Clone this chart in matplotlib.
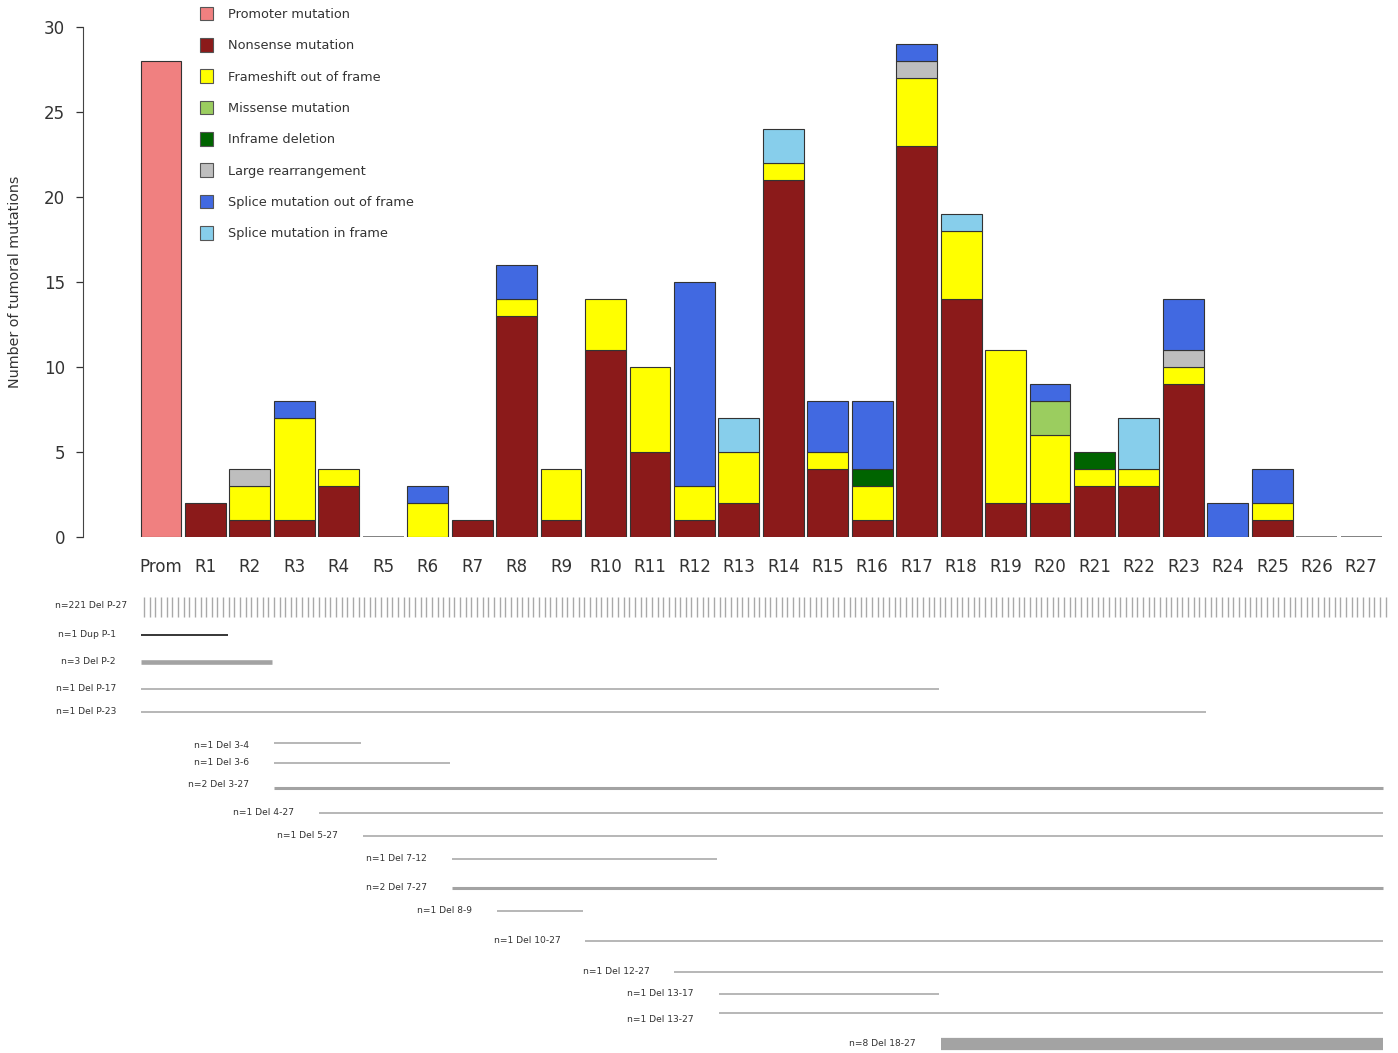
import numpy as np
import matplotlib
matplotlib.use("Agg")
import matplotlib.pyplot as plt
from matplotlib.patches import Patch

# bar categories
regions = ["Prom"] + ["R%d" % i for i in range(1, 28)]

# mutation counts per region, one list per mutation type (stack order bottom -> top)
promoter   = [28] + [0] * 27
nonsense   = [0, 2, 1, 1, 3, 0, 0, 1, 13, 1, 11, 5, 1, 2, 21, 4, 1, 23, 14, 2, 2, 3, 3, 9, 0, 1, 0, 0]
frameshift = [0, 0, 2, 6, 1, 0, 2, 0, 1, 3, 3, 5, 2, 3, 1, 1, 2, 4, 4, 9, 4, 1, 1, 1, 0, 1, 0, 0]
missense   = [0, 0, 0, 0, 0, 0, 0, 0, 0, 0, 0, 0, 0, 0, 0, 0, 0, 0, 0, 0, 2, 0, 0, 0, 0, 0, 0, 0]
inframe    = [0, 0, 0, 0, 0, 0, 0, 0, 0, 0, 0, 0, 0, 0, 0, 0, 1, 0, 0, 0, 0, 1, 0, 0, 0, 0, 0, 0]
large_rearr = [0, 0, 1, 0, 0, 0, 0, 0, 0, 0, 0, 0, 0, 0, 0, 0, 0, 1, 0, 0, 0, 0, 0, 1, 0, 0, 0, 0]
splice_out = [0, 0, 0, 1, 0, 0, 1, 0, 2, 0, 0, 0, 12, 0, 0, 3, 4, 1, 0, 0, 1, 0, 0, 3, 2, 2, 0, 0]
splice_in  = [0, 0, 0, 0, 0, 0, 0, 0, 0, 0, 0, 0, 0, 2, 2, 0, 0, 0, 1, 0, 0, 0, 3, 0, 0, 0, 0, 0]

series = [
    ("Promoter mutation", promoter, "#f08080"),
    ("Nonsense mutation", nonsense, "#8b1a1a"),
    ("Frameshift out of frame", frameshift, "#ffff00"),
    ("Missense mutation", missense, "#9bcd5f"),
    ("Inframe deletion", inframe, "#006400"),
    ("Large rearrangement", large_rearr, "#bebebe"),
    ("Splice mutation out of frame", splice_out, "#4169e1"),
    ("Splice mutation in frame", splice_in, "#87ceeb"),
]

# large deletions / duplications spanning regions (0 = Prom)
event_labels = ["n=1 Dup P-1", "n=3 Del P-2", "n=1 Del P-17", "n=1 Del P-23",
                "n=1 Del 3-4", "n=1 Del 3-6", "n=2 Del 3-27", "n=1 Del 4-27",
                "n=1 Del 5-27", "n=1 Del 7-12", "n=2 Del 7-27", "n=1 Del 8-9",
                "n=1 Del 10-27", "n=1 Del 12-27", "n=1 Del 13-17", "n=1 Del 13-27",
                "n=8 Del 18-27"]
event_start = [0, 0, 0, 0, 3, 3, 3, 4, 5, 7, 7, 8, 10, 12, 13, 13, 18]
event_end   = [1, 2, 17, 23, 4, 6, 27, 27, 27, 12, 27, 9, 27, 27, 17, 27, 27]
event_n     = [1, 3, 1, 1, 1, 1, 2, 1, 1, 1, 2, 1, 1, 1, 1, 1, 8]
whole_del_n = 221

# layout of the event rows (pixel rows from the top of the figure)
row_y = [635, 662, 689, 712, 743, 763, 788, 813, 836, 859, 888, 911, 941, 972, 994, 1013, 1044]
label_dy = [0, 0, 0, 0, 3, 0, -3, 0, 0, 0, 0, 0, 0, 0, 0, 7, 0]

W, H = 1398, 1053
fig = plt.figure(figsize=(W / 100, H / 100), dpi=100)
fig.patch.set_facecolor("white")

step = 44.45      # pixels between bar centres
x0_px = 161       # centre of first bar
ax_left, ax_right = 83, 1398
xlim = ((ax_left - x0_px) / step, (ax_right - x0_px) / step)

ax = fig.add_axes([ax_left / W, (H - 537) / H, (ax_right - ax_left) / W, (537 - 27) / H])
x = np.arange(len(regions))
bottom = np.zeros(len(regions))
for name, vals, col in series:
    vals = np.array(vals, dtype=float)
    mask = vals > 0
    ax.bar(x[mask], vals[mask], bottom=bottom[mask], width=0.92, color=col,
           edgecolor="#333333", linewidth=0.8, zorder=2)
    bottom += vals
# empty regions are drawn as flat bars on the baseline
totals = bottom
empty = totals == 0
ax.bar(x[empty], totals[empty], width=0.92, color="none", edgecolor="#777777", linewidth=1.3)

ax.set_xlim(*xlim)
ax.set_ylim(0, 30)
ax.set_xticks(x)
ax.set_xticklabels(regions, fontsize=12, color="#333333")
ax.set_yticks(range(0, 31, 5))
ax.tick_params(axis="x", length=0, pad=15)
ax.tick_params(axis="y", length=5, width=0.9, pad=8, labelsize=12, colors="#333333")
for s in ["top", "right", "bottom"]:
    ax.spines[s].set_visible(False)
ax.spines["left"].set_bounds(0, 30)
ax.spines["left"].set_color("#444444")
ax.set_ylabel("Number of tumoral mutations", fontsize=10.3, color="#333333", labelpad=16)
ax.patch.set_alpha(0)

handles = [Patch(facecolor=c, edgecolor="#555555", linewidth=0.8) for _, _, c in series]
fig.legend(handles, [n for n, _, _ in series], loc="upper left",
           bbox_to_anchor=(188 / W, 1 + 5 / H), frameon=False, fontsize=9.3,
           labelspacing=1.33, handlelength=1.0, handleheight=1.25, handletextpad=1.2,
           labelcolor="#333333")

# lower panel with the spanning events
low = fig.add_axes([ax_left / W, 0, (ax_right - ax_left) / W, (H - 585) / H])
low.set_xlim(*xlim)
low.set_ylim(H, 585)
low.axis("off")

# whole-gene deletions as a row of ticks
ticks_x = np.linspace(-0.38, 27.55, whole_del_n)
low.vlines(ticks_x, 597, 617, color="#a9a9a9", linewidth=1.0)
low.annotate("n=%d Del P-27" % whole_del_n, (-0.5, 606), xytext=(-12, 0),
             textcoords="offset pixels", ha="right", va="center", fontsize=6.6, color="#333333")

for lab, s, e, n, y, dy in zip(event_labels, event_start, event_end, event_n, row_y, label_dy):
    col = "black" if "Dup" in lab else "#a3a3a3"
    low.plot([s - 0.45, e + 0.5], [y, y], color=col, linewidth=1.1 * n,
             solid_capstyle="butt")
    low.annotate(lab, (s - 0.45, y + dy), xytext=(-25, 0), textcoords="offset pixels",
                 ha="right", va="center", fontsize=6.6, color="#333333")

fig.savefig("out.png", dpi=100)
